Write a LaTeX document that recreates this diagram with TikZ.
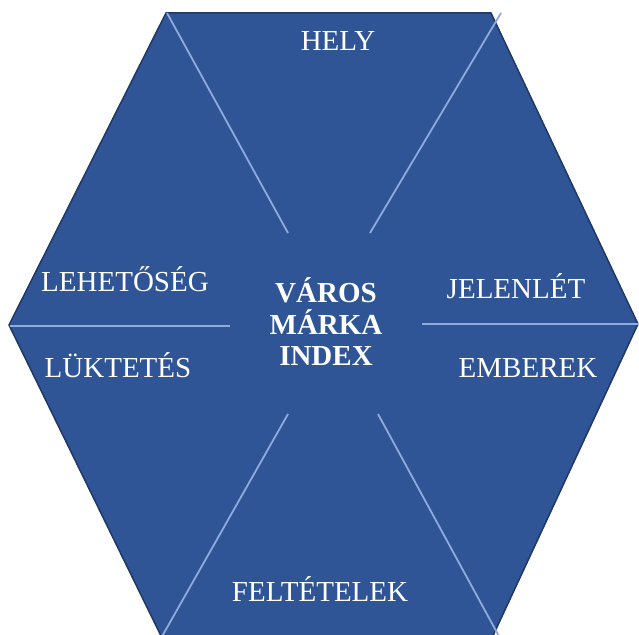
\documentclass[tikz,border=0pt]{standalone}
\usepackage{fontspec}
\setmainfont{Liberation Serif}
\definecolor{hexfill}{HTML}{2F5597}
\definecolor{hexedge}{HTML}{1F3864}
\definecolor{spoke}{HTML}{8FAADC}
\begin{document}
\begin{tikzpicture}[x=1pt,y=-1pt,
  lbl/.style={text=white,font=\fontsize{29}{33}\selectfont,anchor=base,inner sep=0pt},
  blbl/.style={lbl,font=\bfseries\fontsize{29}{33}\selectfont},
  spk/.style={draw=spoke,line width=1.8pt}]
\useasboundingbox (0,0) rectangle (639,634);
\clip (0,0) rectangle (639,634);
\draw[fill=hexfill,draw=hexedge,line width=1.5pt]
  (9,325) -- (166,13) -- (491,13) -- (638,324) -- (491,640) -- (163,640) -- cycle;
% spokes
\coordinate (tl) at (167,13);   \coordinate (tli) at (288,233);
\coordinate (tr) at (501,13);   \coordinate (tri) at (370,233);
\coordinate (ml) at (10,326);   \coordinate (mli) at (230,326);
\coordinate (mr) at (639,324);  \coordinate (mri) at (422,324);
\coordinate (bl) at (160,640);  \coordinate (bli) at (288,414);
\coordinate (br) at (501,640);  \coordinate (bri) at (378,414);
\draw[spk] (tl) -- (tli);
\draw[spk] (tr) -- (tri);
\draw[spk] (ml) -- (mli);
\draw[spk] (mr) -- (mri);
\draw[spk] (bl) -- (bli);
\draw[spk] (br) -- (bri);
% labels
\node[lbl] (hely) at (338,50) {HELY};
\node[lbl] (lehet) at (125,291) {LEHETŐSÉG};
\node[lbl] (lukt) at (118,377) {LÜKTETÉS};
\node[lbl] (jelen) at (516,298) {JELENLÉT};
\node[lbl] (ember) at (528,377) {EMBEREK};
\node[lbl] (felt) at (320,601) {FELTÉTELEK};
\node[blbl] (v1) at (326,302) {VÁROS};
\node[blbl] (v2) at (326,334) {MÁRKA};
\node[blbl] (v3) at (326,365) {INDEX};
\end{tikzpicture}
\end{document}
